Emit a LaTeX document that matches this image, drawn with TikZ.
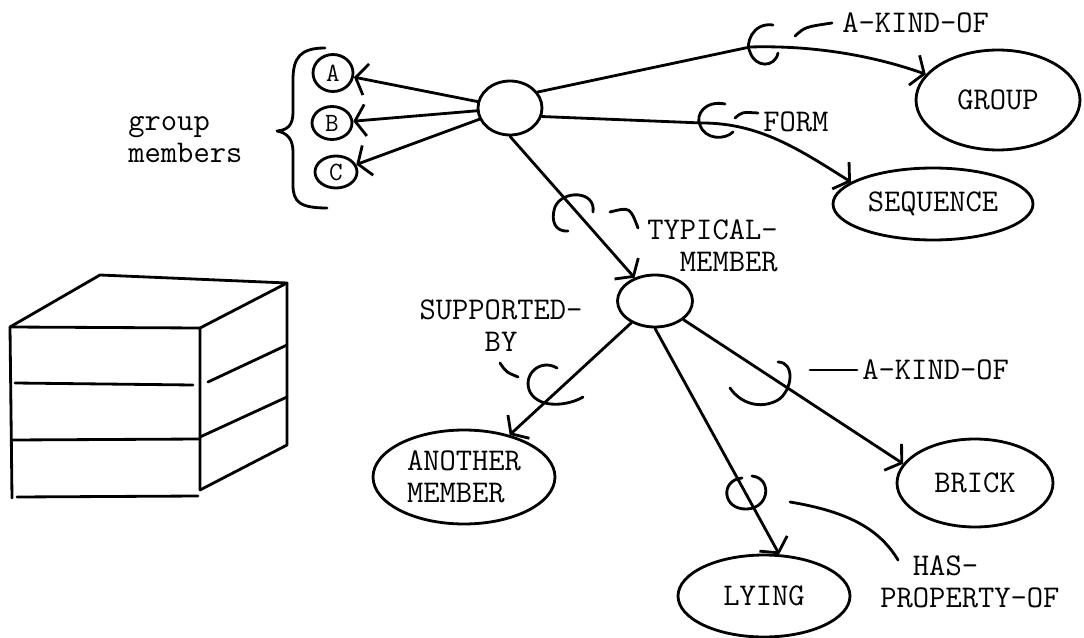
\documentclass[tikz,border=0pt]{standalone}
\usepackage{fontspec}
\usetikzlibrary{shapes.geometric, arrows.meta}

\begin{document}
\begin{tikzpicture}[x=0.02cm, y=-0.02cm,
    every node/.style={font=\ttfamily\fontsize{18}{18.2}\selectfont},
    concept/.style={draw, ellipse, line width=1.6pt, inner sep=0pt},
    member/.style={concept, font=\ttfamily\fontsize{15}{16}\selectfont},
    note/.style={inner sep=0pt, align=left},
    pen/.style={line width=1.6pt, line cap=round, line join=round},
    link/.style={pen, -{Straight Barb[length=6pt, width=18pt]}}
  ]
  \useasboundingbox (0,0) rectangle (1084,638);

  \node[concept, minimum width=1.28cm, minimum height=1.08cm] (grp)   at (510,108) {};
  \node[member,  minimum width=0.8cm,  minimum height=0.74cm] (ma)    at (333,73)  {A};
  \node[member,  minimum width=0.8cm,  minimum height=0.66cm] (mb)    at (332,123) {B};
  \node[member,  minimum width=0.84cm, minimum height=0.64cm] (mc)    at (336,172) {C};
  \node[concept, minimum width=3.28cm, minimum height=2cm]    (group) at (998,100) {GROUP};
  \node[concept, minimum width=4cm,    minimum height=1.44cm] (seq)   at (933,204) {SEQUENCE};
  \node[concept, minimum width=1.5cm,  minimum height=1.04cm] (tm)    at (655,301) {};
  \node[concept, minimum width=3.64cm, minimum height=1.88cm, align=left] (other) at (464,477) {ANOTHER\\MEMBER};
  \node[concept, minimum width=3.12cm, minimum height=1.76cm] (brick) at (975,483) {BRICK};
  \node[concept, minimum width=3.44cm, minimum height=1.64cm] (lying) at (764,596) {LYING};

  \coordinate (kindpt) at (750,47);
  \coordinate (formpt) at (702,123);

  \draw[link] (grp) -- (ma);
  \draw[link] (grp) -- (mb);
  \draw[link] (grp) -- (mc);
  \draw[link] (grp.30) -- (kindpt) .. controls (820,45) and (880,58) .. (group);
  \draw[link] (grp.-15) -- (formpt) .. controls (760,123) and (800,150) .. (seq.165);
  \draw[link] (grp.south) -- (tm);
  \draw[link] (tm) -- (other);
  \draw[link] (tm) -- (brick.165);
  \draw[link] (tm.south) -- (lying.70);

  % relation hooks on the links
  \draw[pen] (773,25) .. controls (752,22) and (745,45) .. (750,52) .. controls (755,68) and (775,68) .. (778,53);
  \draw[pen] (725,104) .. controls (705,100) and (695,115) .. (700,125) .. controls (705,140) and (725,140) .. (733,132);
  \draw[pen] (593,212) .. controls (596,190) and (562,190) .. (555,207) .. controls (550,222) and (556,232) .. (568,231);
  \draw[pen] (557,368) .. controls (540,358) and (522,375) .. (530,392) .. controls (540,410) and (570,405) .. (583,397);
  \draw[pen] (778,362) .. controls (795,362) and (793,390) .. (778,400) .. controls (760,410) and (740,403) .. (730,388);
  \draw[pen] (742,478) .. controls (720,480) and (722,510) .. (747,509) .. controls (770,508) and (772,478) .. (752,476);

  \draw[pen] (795,36) .. controls (805,27) .. (832,23);
  \draw[pen] (735,118) .. controls (742,112) .. (758,113);
  \draw[pen] (610,212) .. controls (630,207) .. (638,228);
  \draw[pen] (500,363) .. controls (506,372) .. (518,377);
  \draw[pen] (810,370) -- (857,370);
  \draw[pen] (790,502) .. controls (850,512) and (880,530) .. (898,560);

  \node[note, anchor=west]  (kindlbl)  at (842,23)  {A-KIND-OF};
  \node[note, anchor=west]  (formlbl)  at (763,122) {FORM};
  \node[note, anchor=east, align=right]  (typlbl) at (778,246) {TYPICAL-\\MEMBER};
  \node[note, align=center] (suplbl)   at (501,326) {SUPPORTED-\\BY};
  \node[note, anchor=west]  (kind2lbl) at (862,370) {A-KIND-OF};
  \node[note, anchor=west]  (haslbl)   at (880,582) {\phantom{PR}HAS-\\PROPERTY-OF};
  \node[note, anchor=west]  (memlbl)   at (128,140) {group\\members};

  \draw[pen] (325,48) .. controls (300,48) and (293,58) .. (293,80) -- (293,112)
    .. controls (293,125) and (288,130) .. (277,131)
    .. controls (288,133) and (293,140) .. (293,152) -- (293,185)
    .. controls (293,202) and (300,208) .. (327,208);

  % the stack of bricks
  \draw[pen] (10,327) -- (200,328) -- (200,490);
  \draw[pen] (10,327) -- (12,498);
  \draw[pen] (15,383) -- (193,385);
  \draw[pen] (12,440) -- (200,439);
  \draw[pen] (17,497) -- (198,496);
  \draw[pen] (10,327) -- (100,275) -- (287,283) -- (200,328);
  \draw[pen] (287,283) -- (287,445) -- (200,490);
  \draw[pen] (208,382) -- (287,345);
  \draw[pen] (200,437) -- (287,397);
\end{tikzpicture}
\end{document}
